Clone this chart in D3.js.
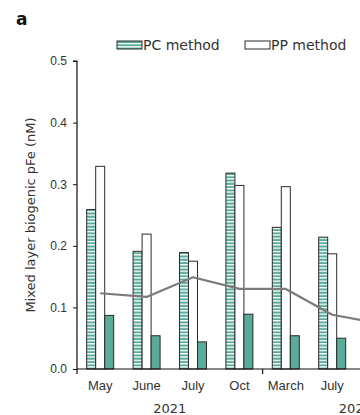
<!DOCTYPE html>
<html>
<head>
<meta charset="utf-8">
<script src="https://d3js.org/d3.v7.min.js"></script>
<style>
  body { margin: 0; background: #fff; }
  svg { display: block; font-family: "DejaVu Sans", sans-serif; }
  .tick text { font-size: 12px; fill: #333; }
  .label { font-size: 13px; fill: #333; }
</style>
</head>
<body>
<div id="chart"></div>
<script>
// visible sampling months; 2022 continues past the right edge
const months = ["May", "June", "July", "Oct", "March", "July"];
const yearLabels = ["2021", "2022"];
const yearSizes = [4, 4];

// mixed layer biogenic pFe (nM)
const pcMethod = [0.259, 0.191, 0.189, 0.318, 0.230, 0.214];
const ppMethod = [0.329, 0.219, 0.175, 0.298, 0.296, 0.187];
const thirdBar = [0.087, 0.054, 0.044, 0.089, 0.054, 0.050];
// grey line runs on into the next (cut off) sampling
const greyLine = [0.123, 0.117, 0.149, 0.130, 0.130, 0.088, 0.074];

const yTicks = [0, 0.1, 0.2, 0.3, 0.4, 0.5];

const width = 360, height = 415;
const axisLeft = 77, axisTop = 61, axisBottom = 369;
const teal = "#5aab99";

const svg = d3.select("#chart").append("svg")
    .attr("width", width)
    .attr("height", height);

// horizontal stripe fill for PC method
const pat = svg.append("defs").append("pattern")
    .attr("id", "stripes")
    .attr("patternUnits", "userSpaceOnUse")
    .attr("width", 10)
    .attr("height", 3.3);
pat.append("rect").attr("width", 10).attr("height", 3.3).attr("fill", "#fff");
pat.append("rect").attr("y", 1.3).attr("width", 10).attr("height", 2).attr("fill", teal);

const nSlots = d3.sum(yearSizes);
const slots = d3.range(nSlots);

const xScale = d3.scaleBand()
    .domain(slots)
    .range([axisLeft, axisLeft + 46.4 * nSlots])
    .paddingInner(0.418)
    .paddingOuter(0.209);

const subScale = d3.scaleBand()
    .domain(["pc", "pp", "other"])
    .range([0, xScale.bandwidth()]);

const yScale = d3.scaleLinear()
    .domain([0, 0.5])
    .range([axisBottom, axisTop]);

// panel letter
svg.append("text")
    .attr("x", 16)
    .attr("y", 25)
    .style("font-size", "17px")
    .style("font-weight", "bold")
    .attr("fill", "#111")
    .text("a");

// bars
const series = [
  { key: "pc", values: pcMethod, fill: "url(#stripes)" },
  { key: "pp", values: ppMethod, fill: "#fff" },
  { key: "other", values: thirdBar, fill: teal }
];

series.forEach(function(s) {
  svg.append("g").selectAll("rect")
     .data(s.values)
     .enter()
     .append("rect")
     .attr("x", (d, i) => xScale(i) + subScale(s.key))
     .attr("y", d => yScale(d))
     .attr("width", subScale.bandwidth())
     .attr("height", d => yScale(0) - yScale(d))
     .attr("fill", s.fill)
     .attr("stroke", "#2b2b2b")
     .attr("stroke-width", 1);
});

// grey line
const line = d3.line()
    .x((d, i) => xScale(i) + xScale.bandwidth() / 2)
    .y(d => yScale(d));

svg.append("path")
   .datum(greyLine)
   .attr("d", line)
   .attr("fill", "none")
   .attr("stroke", "#7b7b7b")
   .attr("stroke-width", 2.2)
   .attr("stroke-linejoin", "round");

// y axis
const yAxis = svg.append("g")
    .attr("transform", "translate(" + axisLeft + ",0)")
    .call(d3.axisLeft(yScale).tickValues(yTicks).tickFormat(d3.format(".1f")).tickSize(4).tickPadding(6));
yAxis.select(".domain").attr("d", "M-4," + axisTop + "H0V" + axisBottom).attr("stroke", "#111").attr("stroke-width", 1.2);
yAxis.selectAll(".tick line").attr("stroke", "#111");

// x axis: month labels without ticks, ticks at year boundaries
const xAxis = svg.append("g")
    .attr("transform", "translate(0," + axisBottom + ")")
    .call(d3.axisBottom(xScale).tickValues(d3.range(months.length)).tickSize(0).tickPadding(12).tickFormat(i => months[i]));
xAxis.select(".domain").attr("d", "M" + axisLeft + ",0H" + (axisLeft + 46.4 * nSlots)).attr("stroke", "#111").attr("stroke-width", 1.2);
xAxis.selectAll(".tick text").style("font-size", "13px");

let start = 0;
yearLabels.forEach(function(y, k) {
  const x0 = xScale.step() * start + axisLeft;
  const x1 = xScale.step() * (start + yearSizes[k]) + axisLeft;
  svg.append("line")
     .attr("x1", x0).attr("x2", x0)
     .attr("y1", axisBottom).attr("y2", axisBottom + 5)
     .attr("stroke", "#111").attr("stroke-width", 1.2);
  svg.append("text")
     .attr("class", "label")
     .attr("x", (x0 + x1) / 2)
     .attr("y", axisBottom + 44)
     .attr("text-anchor", "middle")
     .text(y);
  start += yearSizes[k];
});

// y axis label
svg.append("text")
   .attr("class", "label")
   .attr("transform", "translate(35," + ((axisTop + axisBottom) / 2) + ")rotate(-90)")
   .attr("text-anchor", "middle")
   .text("Mixed layer biogenic pFe (nM)");

// legend
const legend = [
  { name: "PC method", fill: "url(#stripes)", x: 117 },
  { name: "PP method", fill: "#fff", x: 245 }
];
legend.forEach(function(d) {
  svg.append("rect")
     .attr("x", d.x).attr("y", 41)
     .attr("width", 25).attr("height", 8)
     .attr("fill", d.fill)
     .attr("stroke", "#2b2b2b").attr("stroke-width", 1);
  svg.append("text")
     .attr("class", "label")
     .attr("x", d.x + 26)
     .attr("y", 50)
     .style("font-size", "14px")
     .text(d.name);
});
</script>
</body>
</html>
